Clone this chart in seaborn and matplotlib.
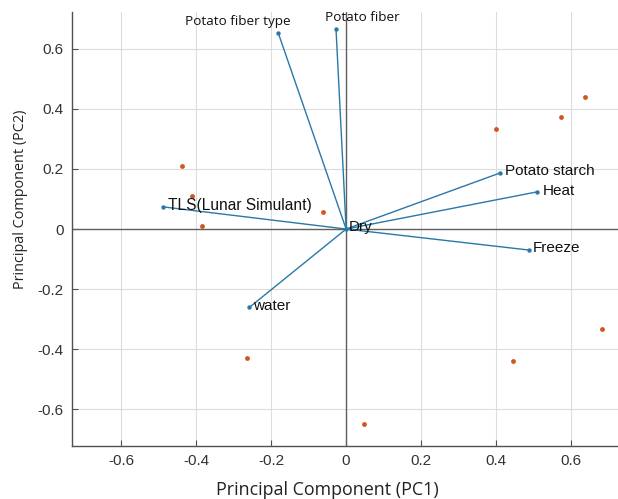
import matplotlib
matplotlib.use("Agg")
import matplotlib.pyplot as plt
import seaborn as sns
import pandas as pd

# Loadings (variable vectors)
var_names = ["Potato fiber type", "Potato fiber", "Potato starch", "Heat",
             "Freeze", "TLS(Lunar Simulant)", "water", "Dry"]
var_pc1 = [-0.181, -0.027, 0.411, 0.510, 0.488, -0.489, -0.258, 0.0]
var_pc2 = [0.653, 0.667, 0.187, 0.124, -0.070, 0.074, -0.261, 0.0]

# Scores (observations)
obs_pc1 = [-0.437, -0.411, -0.385, -0.062, 0.400, 0.573, 0.636,
           -0.265, 0.047, 0.446, 0.683]
obs_pc2 = [0.211, 0.111, 0.010, 0.057, 0.333, 0.373, 0.439,
           -0.430, -0.649, -0.439, -0.333]

x_ticks = [-0.6, -0.4, -0.2, 0, 0.2, 0.4, 0.6]
y_ticks = [-0.6, -0.4, -0.2, 0, 0.2, 0.4, 0.6]

sns.set_theme(style="white")
plt.rcParams['font.family'] = ['Liberation Sans', 'DejaVu Sans']

blue = "#2878a8"
orange = "#d4541e"

fig = plt.figure(figsize=(6.18, 4.99), dpi=100)
ax = fig.add_axes([0.1165, 0.106, 0.8835, 0.870])

ax.set_xlim(-0.731, 0.725)
ax.set_ylim(-0.723, 0.723)
ax.set_xticks(x_ticks)
ax.set_yticks(y_ticks)
ax.set_xticklabels([f"{t:g}" for t in x_ticks])
ax.set_yticklabels([f"{t:g}" for t in y_ticks])
ax.grid(True, color="#dcdcdc", linewidth=0.8)
ax.set_axisbelow(True)

ax.axhline(0, color="#606060", linewidth=1.0, zorder=1)
ax.axvline(0, color="#606060", linewidth=1.0, zorder=1)

# vectors
for x, y in zip(var_pc1, var_pc2):
    ax.plot([0, x], [0, y], color=blue, linewidth=1.0, zorder=2)
vdf = pd.DataFrame({"PC1": var_pc1, "PC2": var_pc2, "name": var_names})
sns.scatterplot(data=vdf, x="PC1", y="PC2", ax=ax, color=blue, s=10,
                edgecolor=blue, linewidth=0, zorder=3)

odf = pd.DataFrame({"PC1": obs_pc1, "PC2": obs_pc2})
sns.scatterplot(data=odf, x="PC1", y="PC2", ax=ax, color=orange, s=12,
                edgecolor=orange, linewidth=0, zorder=3)

# labels: (dx, dy) in pixels, ha, font, size
label_style = {
    "Potato fiber type": ((-40, 11), "center", "Open Sans", 9.7),
    "Potato fiber": ((26, 11), "center", "Open Sans", 9.7),
    "Potato starch": ((5, 2), "left", "Liberation Sans", 11),
    "Heat": ((5, 1), "left", "Liberation Sans", 11),
    "Freeze": ((4, 2), "left", "Liberation Sans", 11),
    "TLS(Lunar Simulant)": ((5, 1), "left", "Liberation Sans", 11.2),
    "water": ((4, 1), "left", "Liberation Sans", 11),
    "Dry": ((3, 2), "left", "Liberation Sans", 11),
}
for name, x, y in zip(var_names, var_pc1, var_pc2):
    (dx, dy), ha, fam, fs = label_style[name]
    ax.annotate(name, (x, y), xytext=(dx, dy), textcoords="offset pixels",
                ha=ha, va="center", fontsize=fs, family=[fam, "DejaVu Sans"],
                color="#111111", zorder=4)

ax.set_xlabel("Principal Component (PC1)", fontsize=12.9,
              family=["Open Sans", "DejaVu Sans"], color="#222222")
ax.set_ylabel("Principal Component (PC2)", fontsize=10.4,
              family=["Open Sans", "DejaVu Sans"], color="#222222")
ax.xaxis.set_label_coords(0.467, -0.080)
ax.yaxis.set_label_coords(-0.080, 0.569)

for side in ["top", "right"]:
    ax.spines[side].set_visible(False)
for side in ["left", "bottom"]:
    ax.spines[side].set_color("#505050")
    ax.spines[side].set_linewidth(1.0)
ax.tick_params(axis="both", direction="in", length=4, width=0.8,
               color="#505050", labelsize=11, labelcolor="#333333", pad=6)
ax.tick_params(left=True, bottom=True)

fig.savefig("out.png", dpi=100)
